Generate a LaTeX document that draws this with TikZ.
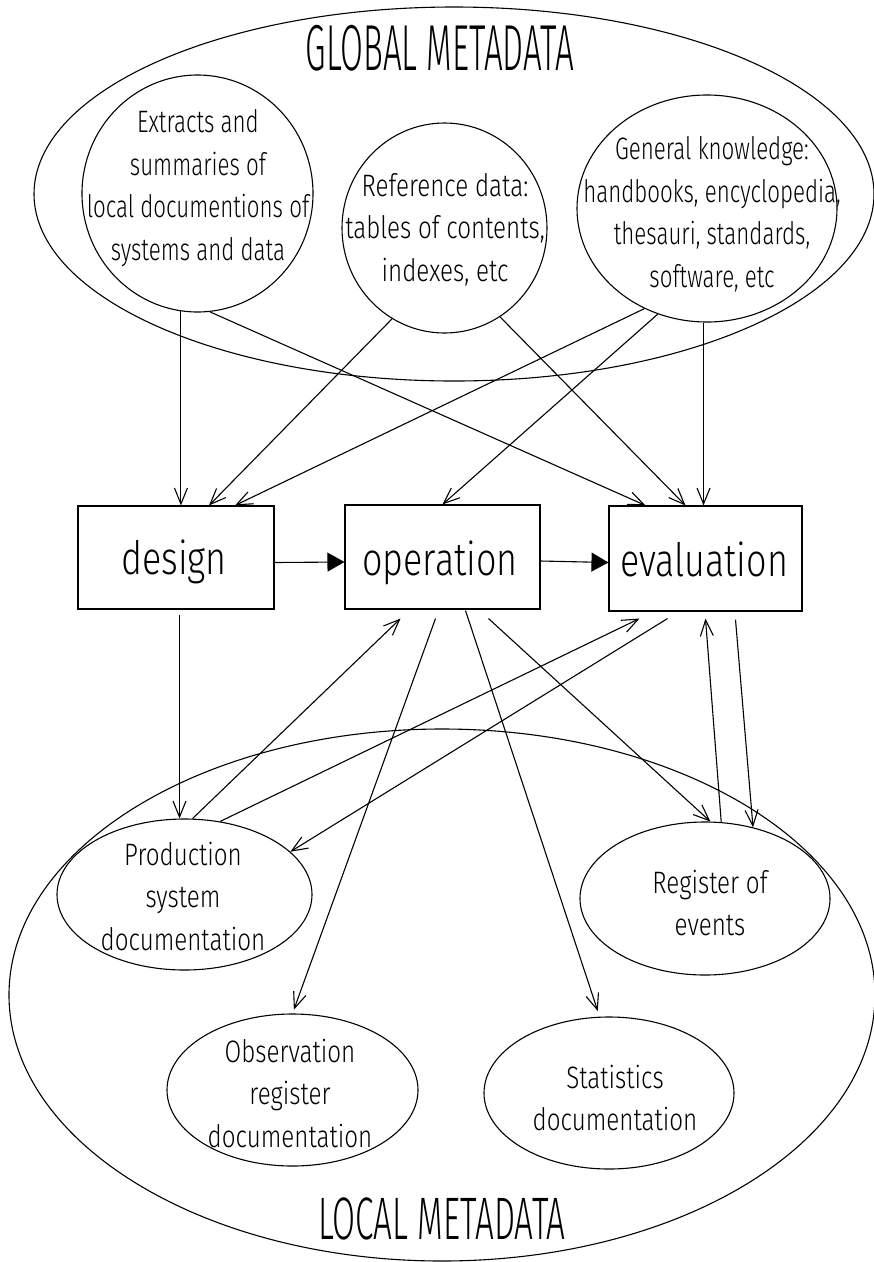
\documentclass[tikz,border=0pt]{standalone}
\usepackage{fontspec}
\newfontfamily\plotfont{Fira Sans Light}[FakeStretch=0.78]
\newfontfamily\plotfontn{Fira Sans Light}[FakeStretch=0.72]
\newfontfamily\titlefont{Fira Sans Light}[FakeStretch=0.51]
\newfontfamily\titlefontb{Fira Sans Light}[FakeStretch=0.555]
\usetikzlibrary{arrows.meta,shapes.geometric}
\begin{document}
\begin{tikzpicture}[x=1pt,y=-1pt,line width=1.1pt,
  bub/.style={draw,ellipse,inner sep=0pt},
  boxn/.style={draw,rectangle,inner sep=0pt},
  lbl/.style={align=center,inner sep=0pt,font=\plotfont\fontsize{31}{42.5}\selectfont},
  lbln/.style={align=center,inner sep=0pt,font=\plotfontn\fontsize{31}{42.5}\selectfont},
  bigl/.style={inner sep=0pt,anchor=base,font=\plotfont\fontsize{46}{50}\selectfont},
  ttl/.style={inner sep=0pt,anchor=base,font=\titlefont\fontsize{65}{70}\selectfont},
  ttlb/.style={inner sep=0pt,anchor=base,font=\titlefontb\fontsize{60}{65}\selectfont},
  arr/.style={-{Straight Barb[length=16pt,width=13pt]}},
  tri/.style={-{Triangle[length=17pt,width=19pt]}}]
\useasboundingbox (0,0) rectangle (874,1262);

% global metadata
\node[bub,minimum width=840pt,minimum height=374pt] (G) at (454,194) {};
\node[ttl] (tG) at (440,70) {GLOBAL METADATA};
\node[bub,minimum width=231pt,minimum height=237pt] (L) at (197.5,193.5) {};
\node[bub,minimum width=205pt,minimum height=210pt] (R) at (444.5,228) {};
\node[bub,minimum width=260pt,minimum height=227pt] (K) at (707,208.5) {};
\node[lbln] (tL) at (198,188) {Extracts and\\summaries of\\local documentions of\\systems and data};
\node[lbl] (tR) at (445,229.5) {Reference data:\\tables of contents,\\indexes, etc};
\node[lbln] (tK) at (712,214.5) {General knowledge:\\handbooks, encyclopedia,\\thesauri, standards,\\software, etc};

% process boxes
\node[boxn,minimum width=196pt,minimum height=103pt] (design) at (176,557.5) {};
\node[boxn,minimum width=195pt,minimum height=104pt] (operation) at (442.5,557) {};
\node[boxn,minimum width=193pt,minimum height=105pt] (evaluation) at (705.5,558.5) {};
\node[bigl] (tD) at (174,574) {design};
\node[bigl] (tOp) at (440,575) {operation};
\node[bigl] (tEv) at (704,576) {evaluation};

% local metadata
\node[bub,minimum width=866pt,minimum height=532pt] (Lo) at (442,995) {};
\node[ttlb] (tLo) at (442,1239) {LOCAL METADATA};
\node[bub,minimum width=255pt,minimum height=151pt] (P) at (184.5,894.5) {};
\node[bub,minimum width=250pt,minimum height=153pt] (E) at (705,898.5) {};
\node[bub,minimum width=251pt,minimum height=152pt] (O) at (292.5,1090) {};
\node[bub,minimum width=250pt,minimum height=152pt] (S) at (609,1093) {};
\node[lbl] (tP) at (183,896) {Production\\system\\documentation};
\node[lbl] (tE) at (710,903) {Register of\\events};
\node[lbl] (tO) at (290,1093) {Observation\\register\\documentation};
\node[lbl] (tS) at (615,1098) {Statistics\\documentation};

% global -> processes
\draw[arr] (L.262) -- (L.262 |- design.north);
\draw[arr] (L.276) -- ([xshift=-60pt]evaluation.north);
\draw[arr] (R.240) -- ([xshift=33pt]design.north);
\draw[arr] (R.302) -- ([xshift=-20pt]evaluation.north);
\draw[arr] (K.238) -- ([xshift=59pt]design.north);
\draw[arr] (K.245) -- (operation.north);
\draw[arr] ([xshift=0.5pt]K.268) -- ([xshift=0.5pt]K.268 |- evaluation.north);

% process chain
\draw[tri] ([yshift=-5pt]design.east) -- ([yshift=-5pt]operation.west);
\draw[tri] ([yshift=-4pt]operation.east) -- ([yshift=-4pt]evaluation.west);

% processes <-> local
\draw[arr] ([xshift=3.5pt,yshift=-5pt]design.south) -- ([xshift=3.5pt]design.south |- P.north);
\draw[arr] (P.84) -- ([xshift=-42pt,yshift=-9pt]operation.south);
\draw[arr] (P.64) -- ([xshift=-66pt,yshift=-7pt]evaluation.south);
\draw[arr] ([xshift=-38pt,yshift=-7pt]evaluation.south) -- (P.22);
\draw[arr,shorten >=4pt] ([xshift=-7pt,yshift=-9pt]operation.south) -- (O.north);
\draw[arr,shorten >=6pt] ([xshift=23pt,yshift=-1pt]operation.south) -- (S.97);
\draw[arr] ([xshift=46pt,yshift=-9pt]operation.south) -- (E.86);
\draw[arr] (E.78) -- ([yshift=-7pt]evaluation.south);
\draw[arr] ([xshift=30pt,yshift=-8pt]evaluation.south) -- (E.56);
\end{tikzpicture}
\end{document}
